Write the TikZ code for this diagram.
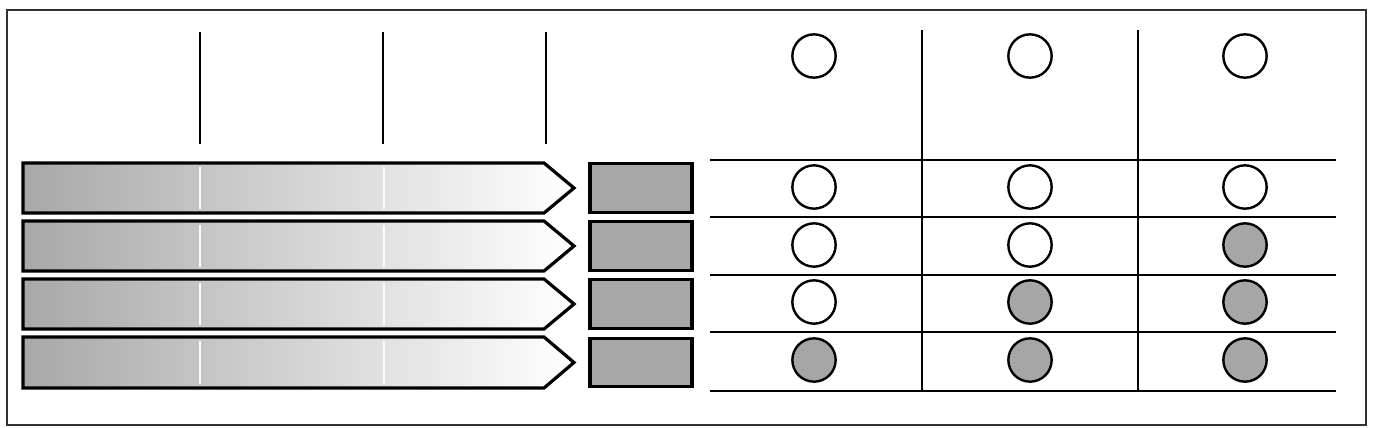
\documentclass[tikz,border=0pt]{standalone}
\usepackage{amssymb,amsmath}
\usepackage{tikz}

\begin{document}
\begin{tikzpicture}[x=0.75pt,y=0.75pt,yscale=-1,xscale=1,
  flow/.style={draw=black,line width=2.4,left color={rgb,255:red,168;green,168;blue,168},right color=white},
  gap/.style={draw={rgb,255:red,252;green,252;blue,248},line width=1.5},
  sqbox/.style={draw=black,line width=2.4,fill={rgb,255:red,168;green,168;blue,168},rectangle,inner sep=0pt,minimum width=76.5pt,minimum height=36.5pt},
  dotopen/.style={draw=black,line width=1.8,fill=white,circle,inner sep=0pt,minimum size=32.5pt},
  dotfull/.style={dotopen,fill={rgb,255:red,166;green,166;blue,166}},
  grid/.style={draw=black,line width=1.2}]
\useasboundingbox (0,0) rectangle (1374,428);

%Frame
\draw [color={rgb, 255:red, 50; green, 50; blue, 50 }  ,draw opacity=1 ][line width=2]  (7,10) rectangle (1366,425) ;

%Straight Lines
\draw [line width=2]  (200,32) -- (200,144) ;
%Straight Lines
\draw [line width=1]  (383,32) -- (383,144) ;
%Straight Lines
\draw [line width=2]  (546,32) -- (546,144) ;

%Shape: Arrow 1
\draw [flow]  (23,163) -- (544,163) -- (574,188) -- (544,213) -- (23,213) -- cycle ;
\draw [gap]  (200,167) -- (200,209) ;
\draw [gap]  (384,167) -- (384,209) ;
%Shape: Arrow 2
\draw [flow]  (23,221) -- (544,221) -- (574,246) -- (544,271) -- (23,271) -- cycle ;
\draw [gap]  (200,225) -- (200,267) ;
\draw [gap]  (384,225) -- (384,267) ;
%Shape: Arrow 3
\draw [flow]  (23,279) -- (544,279) -- (574,304) -- (544,329) -- (23,329) -- cycle ;
\draw [gap]  (200,283) -- (200,325) ;
\draw [gap]  (384,283) -- (384,325) ;
%Shape: Arrow 4
\draw [flow]  (23,337) -- (544,337) -- (574,362.5) -- (544,388) -- (23,388) -- cycle ;
\draw [gap]  (200,341) -- (200,384) ;
\draw [gap]  (384,341) -- (384,384) ;

%Shape: Squares
\node (sqA) [sqbox] at (641,188) {};
\node (sqB) [sqbox] at (641,246) {};
\node (sqC) [sqbox] at (641,304) {};
\node (sqD) [sqbox] at (641,362.5) {};

%Straight Lines: table
\draw [grid]  (710,160) -- (1336,160) ;
\draw [grid]  (710,217) -- (1336,217) ;
\draw [grid]  (710,275) -- (1336,275) ;
\draw [grid]  (710,332) -- (1336,332) ;
\draw [grid]  (710,391) -- (1336,391) ;
\draw [grid]  (922,30) -- (922,391) ;
\draw [grid]  (1138,30) -- (1138,391) ;

%Circles: header
\node (hdA) [dotopen] at (814,56) {};
\node (hdB) [dotopen] at (1030,56) {};
\node (hdC) [dotopen] at (1245,56) {};
%Circles: row 1
\node (rAa) [dotopen] at (814,187) {};
\node (rAb) [dotopen] at (1030,187) {};
\node (rAc) [dotopen] at (1245,187) {};
%Circles: row 2
\node (rBa) [dotopen] at (814,245) {};
\node (rBb) [dotopen] at (1030,245) {};
\node (rBc) [dotfull] at (1245,245) {};
%Circles: row 3
\node (rCa) [dotopen] at (814,302) {};
\node (rCb) [dotfull] at (1030,302) {};
\node (rCc) [dotfull] at (1245,302) {};
%Circles: row 4
\node (rDa) [dotfull] at (814,360) {};
\node (rDb) [dotfull] at (1030,360) {};
\node (rDc) [dotfull] at (1245,360) {};

\end{tikzpicture}
\end{document}
